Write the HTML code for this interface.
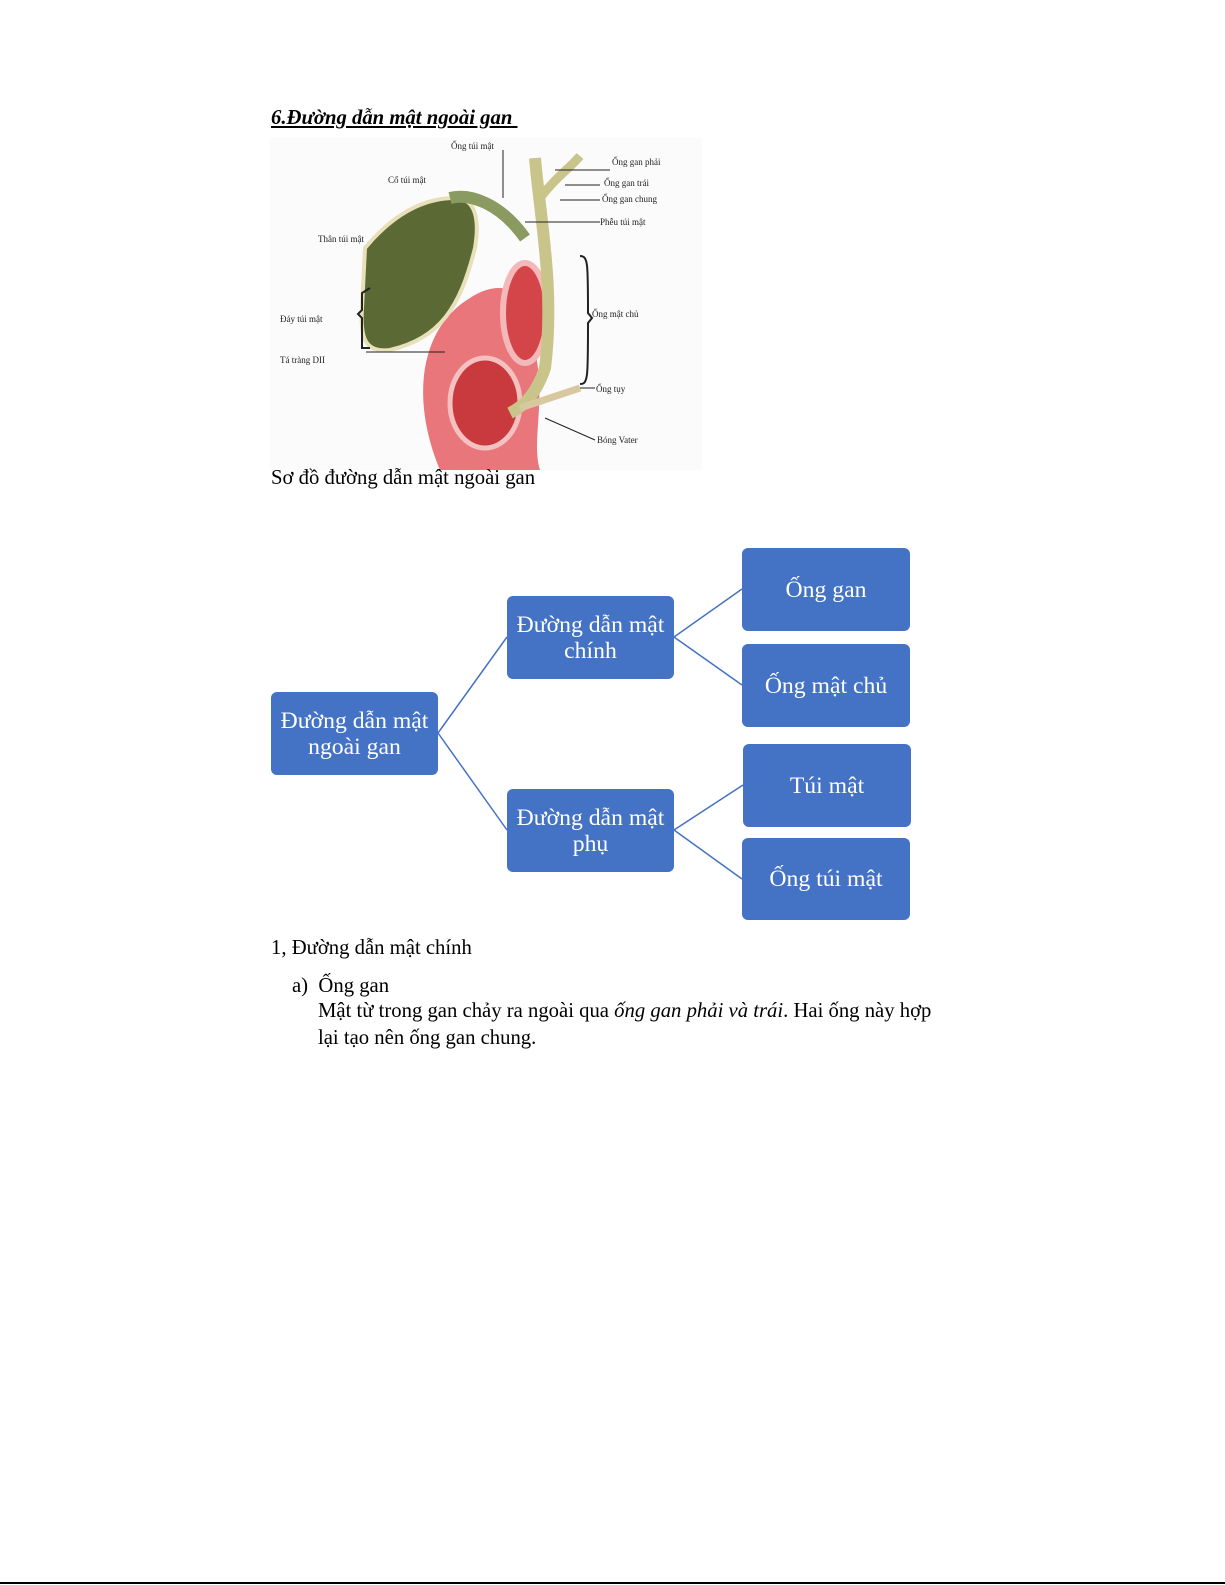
<!DOCTYPE html>
<html><head><meta charset="utf-8"><style>
body{margin:0;width:1225px;height:1585px;background:#fff;position:relative;overflow:hidden;font-family:"Liberation Serif",serif;color:#000}
.t{position:absolute;white-space:nowrap;font-size:20.7px}
.b{position:absolute;background:#4472C4;border-radius:6px;color:#fff;font-size:23.7px;line-height:26px;display:flex;align-items:center;justify-content:center;text-align:center}
.s{font-family:"Liberation Serif",serif;font-size:9px;fill:#222}
</style></head><body>
<div class="t" style="left:271px;top:107px;font-size:20.7px;font-weight:bold;font-style:italic;text-decoration:underline">6.Đường dẫn mật ngoài gan&nbsp;</div>
<svg style="position:absolute;left:270px;top:138px" width="432" height="332">
<rect x="0" y="0" width="432" height="332" fill="#fbfbfb"/>
<path d="M170 332 C140 260 150 190 200 160 C230 140 260 150 260 190 C280 260 260 300 270 332Z" fill="#e8767a"/>
<ellipse cx="255" cy="175" rx="22" ry="50" fill="#d4454a" stroke="#f5b8b8" stroke-width="6"/>
<ellipse cx="215" cy="265" rx="35" ry="45" fill="#c83a3e" stroke="#f5c0c0" stroke-width="5"/>
<path d="M95 110 C120 80 150 60 185 60 C205 60 210 80 205 110 C190 170 170 200 120 212 C95 215 90 200 92 170Z" fill="#5b6a34" stroke="#e8e0b8" stroke-width="4"/>
<path d="M180 60 C200 55 230 65 255 100" stroke="#8a9a60" stroke-width="12" fill="none"/>
<path d="M265 20 C270 80 285 150 275 230 C265 260 250 270 240 275" stroke="#c9c48a" stroke-width="12" fill="none"/>
<path d="M270 60 C285 40 300 30 310 18" stroke="#c9c48a" stroke-width="9" fill="none"/>
<path d="M250 270 L310 250" stroke="#d8c8a0" stroke-width="7"/>
<g stroke="#222" stroke-width="1" fill="none">
<line x1="233" y1="12" x2="233" y2="60"/><line x1="285" y1="32" x2="340" y2="32"/><line x1="295" y1="47" x2="330" y2="47"/><line x1="290" y1="62" x2="330" y2="62"/><line x1="255" y1="84" x2="330" y2="84"/>
<line x1="96" y1="214" x2="175" y2="214"/><line x1="310" y1="250" x2="325" y2="250"/><line x1="275" y1="280" x2="325" y2="302"/>
<path d="M310 118 C318 118 318 125 318 175 L322 180 L318 185 C318 240 318 246 310 246" stroke-width="2"/>
<path d="M100 210 L92 210 L92 180 L88 176 L92 172 L92 155 L100 150" stroke-width="2"/>
</g>
<text class="s" x="181" y="11">Ống túi mật</text><text class="s" x="118" y="45">Cổ túi mật</text>
<text class="s" x="342" y="27">Ống gan phải</text><text class="s" x="334" y="48">Ống gan trái</text><text class="s" x="332" y="64">Ống gan chung</text><text class="s" x="330" y="87">Phễu túi mật</text>
<text class="s" x="48" y="104">Thân túi mật</text><text class="s" x="10" y="184">Đáy túi mật</text><text class="s" x="10" y="225">Tá tràng DII</text>
<text class="s" x="322" y="179">Ống mật chủ</text><text class="s" x="326" y="254">Ống tụy</text><text class="s" x="327" y="305">Bóng Vater</text>
</svg>
<div class="t" style="left:271px;top:467px">Sơ đồ đường dẫn mật ngoài gan</div>
<svg style="position:absolute;left:0;top:0" width="1225" height="1000">
<g stroke="#4472C4" stroke-width="1.5">
<line x1="438" y1="733" x2="507" y2="637"/><line x1="438" y1="733" x2="507" y2="830"/>
<line x1="674" y1="637" x2="742" y2="589"/><line x1="674" y1="637" x2="742" y2="685"/>
<line x1="674" y1="830" x2="743" y2="785"/><line x1="674" y1="830" x2="742" y2="879"/>
</g></svg>
<div class="b" style="left:271px;top:692px;width:167px;height:83px">Đường dẫn mật<br>ngoài gan</div>
<div class="b" style="left:507px;top:596px;width:167px;height:83px">Đường dẫn mật<br>chính</div>
<div class="b" style="left:507px;top:789px;width:167px;height:83px">Đường dẫn mật<br>phụ</div>
<div class="b" style="left:742px;top:548px;width:168px;height:83px">Ống gan</div>
<div class="b" style="left:742px;top:644px;width:168px;height:83px">Ống mật chủ</div>
<div class="b" style="left:743px;top:744px;width:168px;height:83px">Túi mật</div>
<div class="b" style="left:742px;top:838px;width:168px;height:82px">Ống túi mật</div>
<div class="t" style="left:271px;top:937px">1, Đường dẫn mật chính</div>
<div class="t" style="left:292px;top:975px">a)&nbsp; Ống gan</div>
<div class="t" style="left:318px;top:1000px">Mật từ trong gan chảy ra ngoài qua <i>ống gan phải và trái</i>. Hai ống này hợp</div>
<div class="t" style="left:318px;top:1027px">lại tạo nên ống gan chung.</div>
<div style="position:absolute;left:0;top:1582px;width:1225px;height:2px;background:#000"></div>
</body></html>
